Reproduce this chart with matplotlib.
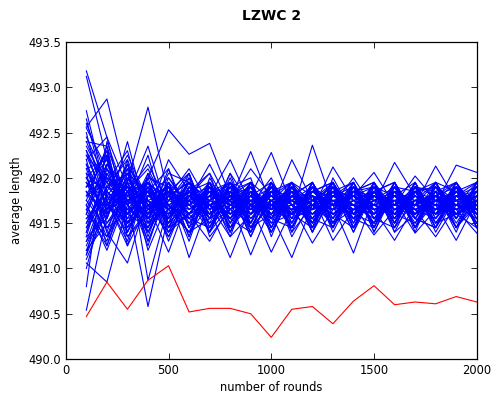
import numpy as np
import matplotlib
matplotlib.use("Agg")
import matplotlib.pyplot as plt

#rounds at which the average length was measured
rounds = list(range(100, 2001, 100))

#one red reference run
red_run = [490.47, 490.85, 490.55, 490.87, 491.03, 490.52, 490.56, 490.56, 490.50, 490.24,
           490.55, 490.58, 490.39, 490.64, 490.81, 490.60, 490.63, 490.61, 490.69, 490.63]

#blue runs (approx.)
blue_runs = [
    [493.18, 492.45, 491.90, 491.75, 491.60, 491.85, 491.70, 491.55, 491.80, 491.65, 491.75, 491.60, 491.70, 491.85, 491.65, 491.70, 491.60, 491.75, 491.70, 491.65],
    [493.12, 492.20, 491.60, 492.05, 491.70, 491.50, 491.85, 491.75, 491.60, 491.90, 491.70, 491.55, 491.80, 491.65, 491.75, 491.85, 491.70, 491.60, 491.80, 491.75],
    [492.56, 492.87, 491.95, 492.78, 491.80, 491.60, 491.75, 491.95, 491.70, 491.60, 491.85, 491.70, 491.65, 491.80, 491.70, 491.60, 491.75, 491.70, 491.65, 491.80],
    [492.74, 491.80, 492.10, 491.70, 491.55, 491.90, 491.65, 491.75, 492.29, 491.70, 491.60, 491.80, 491.75, 491.55, 491.70, 491.80, 491.65, 491.75, 491.85, 491.70],
    [492.40, 492.35, 491.70, 492.00, 492.53, 492.26, 492.38, 491.80, 491.65, 491.90, 491.75, 491.60, 491.70, 491.85, 491.80, 491.60, 491.75, 491.70, 491.65, 491.75],
    [490.54, 491.60, 491.95, 491.80, 491.70, 491.55, 491.70, 491.85, 491.60, 491.75, 491.65, 491.80, 491.70, 491.60, 491.75, 491.70, 491.85, 491.65, 491.70, 491.60],
    [490.80, 492.40, 491.75, 490.58, 491.60, 491.85, 491.70, 491.55, 491.75, 491.80, 491.60, 491.70, 491.85, 491.65, 491.60, 491.75, 491.70, 491.80, 491.60, 491.70],
    [491.06, 490.85, 491.70, 491.90, 491.50, 491.75, 491.60, 491.80, 491.70, 491.55, 491.75, 491.65, 491.75, 491.70, 491.85, 491.65, 491.60, 491.70, 491.75, 491.85],
    [492.20, 491.40, 491.06, 491.80, 491.90, 491.60, 491.30, 491.70, 491.85, 491.65, 491.90, 491.75, 491.60, 491.80, 491.70, 491.75, 491.65, 491.80, 491.70, 491.65],
    [491.40, 491.90, 492.20, 490.87, 491.70, 491.85, 491.65, 491.12, 491.70, 491.80, 491.65, 491.75, 491.70, 491.65, 491.75, 491.60, 491.80, 491.65, 491.75, 491.70],
    [491.80, 492.30, 491.50, 491.70, 491.18, 491.80, 491.60, 491.75, 491.15, 491.70, 491.85, 491.60, 491.80, 491.70, 491.55, 491.80, 491.70, 491.65, 491.80, 491.75],
    [492.00, 491.60, 492.40, 491.55, 491.85, 491.12, 491.75, 491.90, 491.70, 491.18, 491.65, 491.80, 491.70, 491.75, 491.65, 491.70, 491.80, 491.60, 491.70, 491.80],
    [491.60, 492.10, 491.80, 492.35, 491.60, 491.70, 491.85, 491.65, 491.80, 491.60, 491.12, 491.70, 491.75, 491.80, 491.70, 491.65, 491.75, 491.80, 491.60, 491.70],
    [491.20, 491.75, 492.05, 491.60, 492.20, 491.85, 491.55, 491.70, 491.60, 491.85, 491.70, 491.28, 491.65, 491.70, 491.80, 491.75, 491.60, 491.70, 491.80, 491.65],
    [492.10, 491.50, 491.85, 492.15, 491.70, 491.40, 491.70, 491.80, 491.55, 491.75, 491.60, 491.80, 491.31, 491.65, 491.75, 491.80, 491.70, 491.60, 491.75, 491.85],
    [491.90, 492.20, 491.40, 491.80, 492.00, 491.70, 491.95, 491.60, 491.75, 491.70, 491.80, 491.65, 491.70, 491.17, 491.80, 491.70, 491.65, 491.75, 491.70, 491.60],
    [491.70, 491.30, 492.00, 491.65, 491.80, 492.10, 491.70, 491.85, 491.65, 491.80, 491.60, 491.75, 491.80, 491.70, 491.37, 491.65, 491.80, 491.70, 491.60, 491.75],
    [492.30, 491.85, 491.60, 491.90, 491.50, 491.75, 492.15, 491.70, 491.60, 491.75, 491.85, 491.70, 491.60, 491.75, 491.65, 491.31, 491.70, 491.80, 491.65, 491.70],
    [491.50, 492.00, 491.70, 491.45, 491.75, 491.65, 491.80, 492.20, 491.70, 491.60, 491.75, 491.85, 491.70, 491.65, 491.80, 491.75, 491.39, 491.65, 491.75, 491.80],
    [492.15, 491.70, 491.50, 491.85, 491.65, 491.95, 491.60, 491.75, 492.10, 491.80, 491.65, 491.70, 491.85, 491.60, 491.70, 491.80, 491.65, 491.35, 491.70, 491.65],
    [491.30, 491.90, 491.80, 491.60, 491.95, 491.70, 491.50, 491.65, 491.80, 492.28, 491.70, 491.60, 491.75, 491.80, 491.65, 491.70, 491.75, 491.70, 491.31, 491.75],
    [491.85, 491.55, 492.15, 491.70, 491.60, 491.80, 491.70, 491.60, 491.75, 491.65, 492.20, 491.75, 491.65, 491.70, 491.85, 491.65, 491.70, 491.75, 491.65, 491.39],
    [492.05, 491.80, 491.65, 491.95, 491.70, 491.55, 491.80, 491.70, 491.85, 491.75, 491.60, 492.36, 491.70, 491.80, 491.60, 491.75, 491.85, 491.65, 491.70, 491.80],
    [491.65, 492.15, 491.90, 491.50, 491.80, 491.70, 491.60, 491.85, 491.70, 491.80, 491.75, 491.65, 492.12, 491.75, 491.70, 491.60, 491.75, 491.80, 491.70, 491.65],
    [491.95, 491.65, 491.75, 491.85, 491.55, 491.80, 491.75, 491.65, 491.80, 491.70, 491.65, 491.80, 491.70, 492.00, 491.65, 491.80, 491.70, 491.65, 491.85, 491.70],
    [492.45, 491.95, 491.55, 491.70, 491.90, 491.65, 491.85, 491.75, 491.60, 491.75, 491.80, 491.70, 491.65, 491.80, 492.06, 491.70, 491.65, 491.80, 491.70, 491.75],
    [491.75, 491.45, 491.85, 492.10, 491.65, 491.75, 491.60, 491.80, 491.75, 491.65, 491.70, 491.85, 491.80, 491.65, 491.70, 492.17, 491.80, 491.70, 491.65, 491.80],
    [491.55, 491.85, 491.65, 491.75, 491.85, 491.60, 491.90, 491.70, 491.65, 491.85, 491.75, 491.60, 491.75, 491.70, 491.80, 491.70, 492.02, 491.75, 491.80, 491.70],
    [492.25, 491.70, 492.00, 491.60, 491.75, 492.00, 491.65, 491.80, 491.90, 491.60, 491.70, 491.80, 491.65, 491.85, 491.75, 491.80, 491.70, 492.13, 491.75, 491.65],
    [491.45, 492.05, 491.60, 491.80, 491.65, 491.85, 491.75, 491.60, 491.70, 491.85, 491.65, 491.75, 491.85, 491.70, 491.65, 491.75, 491.80, 491.70, 492.14, 492.06],
    [491.10, 491.65, 491.90, 491.70, 491.40, 491.75, 491.80, 491.95, 491.65, 491.70, 491.90, 491.70, 491.60, 491.75, 491.85, 491.65, 491.70, 491.85, 491.70, 491.95],
    [492.35, 491.90, 491.70, 491.40, 491.80, 491.60, 491.70, 491.75, 491.90, 491.65, 491.80, 491.75, 491.90, 491.70, 491.60, 491.85, 491.75, 491.65, 491.90, 491.70],
    [491.70, 491.20, 491.80, 491.95, 491.75, 491.85, 491.40, 491.70, 491.80, 491.95, 491.60, 491.85, 491.70, 491.90, 491.75, 491.70, 491.60, 491.90, 491.75, 491.85],
    [492.00, 492.25, 491.45, 491.75, 491.60, 491.95, 491.75, 491.85, 491.45, 491.70, 491.75, 491.90, 491.60, 491.80, 491.90, 491.55, 491.85, 491.75, 491.60, 491.75],
    [491.85, 491.60, 491.90, 491.30, 491.85, 491.70, 491.90, 491.45, 491.75, 491.90, 491.55, 491.65, 491.85, 491.60, 491.75, 491.90, 491.65, 491.55, 491.80, 491.60],
    [491.25, 491.80, 491.35, 491.65, 491.95, 491.50, 491.70, 491.80, 491.95, 491.55, 491.80, 491.50, 491.80, 491.95, 491.55, 491.70, 491.90, 491.80, 491.55, 491.85],
    [492.60, 492.00, 491.85, 491.55, 491.70, 491.80, 491.55, 491.95, 491.60, 491.80, 491.95, 491.70, 491.50, 491.65, 491.90, 491.80, 491.55, 491.90, 491.70, 491.55],
    [491.60, 491.35, 491.75, 491.85, 491.45, 491.60, 491.85, 491.55, 491.85, 491.70, 491.50, 491.90, 491.75, 491.55, 491.80, 491.60, 491.85, 491.60, 491.85, 491.65],
    [491.95, 491.75, 491.25, 491.70, 491.80, 491.95, 491.60, 491.80, 491.50, 491.90, 491.75, 491.55, 491.90, 491.75, 491.50, 491.85, 491.70, 491.95, 491.60, 491.90],
    [491.15, 491.70, 491.95, 491.45, 491.90, 491.55, 491.80, 491.70, 491.90, 491.45, 491.85, 491.70, 491.55, 491.90, 491.70, 491.55, 491.80, 491.60, 491.75, 491.50],
    [491.35, 492.10, 491.55, 491.95, 491.45, 491.90, 491.50, 491.95, 491.45, 491.85, 491.55, 491.95, 491.50, 491.90, 491.45, 491.85, 491.50, 491.90, 491.55, 491.95],
    [492.15, 491.40, 492.05, 491.35, 491.95, 491.45, 491.95, 491.50, 491.90, 491.45, 491.95, 491.50, 491.90, 491.45, 491.95, 491.50, 491.85, 491.45, 491.90, 491.50],
    [491.55, 491.75, 491.30, 492.05, 491.50, 492.00, 491.40, 491.85, 491.95, 491.50, 491.60, 491.90, 491.45, 491.95, 491.55, 491.90, 491.45, 491.80, 491.95, 491.45],
    [492.50, 491.60, 491.85, 491.25, 491.95, 491.35, 491.90, 491.55, 491.40, 491.95, 491.45, 491.85, 491.95, 491.50, 491.85, 491.45, 491.95, 491.50, 491.80, 491.90],
    [491.00, 491.85, 492.25, 491.75, 491.35, 491.80, 492.05, 491.40, 491.85, 491.40, 491.90, 491.45, 491.85, 491.55, 491.95, 491.50, 491.90, 491.85, 491.45, 491.80],
    [492.20, 492.45, 491.50, 491.90, 491.65, 491.40, 491.55, 492.00, 491.50, 491.95, 491.40, 491.95, 491.55, 491.85, 491.50, 491.95, 491.55, 491.45, 491.95, 491.55],
    [491.65, 491.25, 491.95, 491.55, 492.05, 491.95, 491.40, 491.85, 491.35, 491.85, 491.95, 491.45, 491.95, 491.45, 491.90, 491.40, 491.85, 491.90, 491.50, 491.85],
    [491.90, 492.30, 491.25, 492.00, 491.40, 491.60, 491.95, 491.40, 491.95, 491.40, 491.80, 491.95, 491.45, 491.90, 491.60, 491.95, 491.45, 491.95, 491.60, 491.45],
    [491.35, 491.55, 492.10, 491.20, 491.75, 492.05, 491.45, 491.95, 491.60, 491.95, 491.40, 491.70, 491.95, 491.45, 491.85, 491.50, 491.95, 491.50, 491.85, 491.95],
    [492.65, 491.75, 491.40, 491.90, 491.30, 491.85, 491.95, 491.50, 491.80, 491.50, 491.90, 491.40, 491.85, 491.95, 491.40, 491.90, 491.55, 491.85, 491.45, 491.80],
    [491.15, 492.05, 491.65, 491.50, 492.10, 491.45, 491.75, 491.95, 491.40, 491.75, 491.95, 491.55, 491.45, 491.85, 491.95, 491.45, 491.75, 491.95, 491.55, 491.90],
    [492.05, 491.25, 491.85, 491.95, 491.55, 492.05, 491.35, 491.65, 491.95, 491.55, 491.45, 491.85, 491.95, 491.55, 491.45, 491.95, 491.55, 491.45, 491.90, 491.45],
    [491.75, 492.35, 491.35, 491.60, 491.85, 491.30, 491.95, 491.45, 491.70, 492.00, 491.50, 491.95, 491.60, 491.45, 491.90, 491.60, 491.95, 491.55, 491.95, 491.60],
    [492.30, 491.65, 492.15, 491.40, 491.80, 491.95, 491.55, 492.05, 491.45, 491.60, 491.85, 491.40, 492.00, 491.60, 491.85, 491.95, 491.45, 491.85, 491.40, 491.95],
    [491.40, 492.15, 491.70, 492.25, 491.45, 491.75, 491.85, 491.35, 491.95, 491.75, 491.45, 491.90, 491.55, 491.95, 491.40, 491.85, 491.60, 491.95, 491.85, 491.50],
    [491.95, 491.45, 491.60, 491.85, 492.10, 491.55, 491.45, 491.90, 492.00, 491.35, 491.90, 491.60, 491.85, 491.40, 491.95, 491.55, 491.90, 491.40, 491.80, 491.95],
    [491.80, 491.95, 492.30, 491.50, 491.65, 491.95, 491.70, 491.35, 491.60, 491.90, 491.55, 491.95, 491.40, 491.85, 491.95, 491.40, 491.60, 491.85, 491.95, 491.60],
    [492.40, 491.85, 491.45, 492.00, 491.90, 491.35, 492.00, 491.60, 491.95, 491.45, 491.85, 491.45, 491.95, 491.60, 491.50, 491.90, 491.85, 491.50, 491.60, 491.90],
    [491.20, 491.50, 491.75, 491.85, 491.50, 491.95, 491.55, 491.90, 491.35, 491.85, 491.45, 491.85, 491.65, 491.95, 491.55, 491.45, 491.90, 491.60, 491.95, 491.45],
    [492.10, 492.20, 491.60, 491.45, 492.00, 491.65, 491.80, 491.40, 491.85, 491.60, 491.95, 491.50, 491.90, 491.40, 491.85, 491.95, 491.40, 491.95, 491.45, 491.75],
    [491.50, 491.90, 492.05, 491.85, 491.40, 491.85, 492.05, 491.65, 491.50, 491.95, 491.35, 491.75, 491.95, 491.60, 491.95, 491.60, 491.50, 491.80, 491.90, 491.55],
    [491.85, 491.35, 491.95, 491.30, 491.85, 491.75, 491.40, 491.95, 491.75, 491.40, 491.80, 491.95, 491.50, 491.90, 491.55, 491.80, 491.95, 491.45, 491.80, 491.85],
    [492.55, 492.10, 491.75, 491.95, 491.45, 491.90, 491.65, 491.90, 491.55, 491.85, 491.60, 491.45, 491.90, 491.50, 491.95, 491.65, 491.85, 491.95, 491.45, 491.95],
    [491.45, 491.80, 491.50, 491.90, 491.70, 491.40, 491.90, 491.45, 491.90, 491.65, 491.95, 491.80, 491.45, 491.95, 491.45, 491.90, 491.45, 491.75, 491.95, 491.65],
    [492.00, 491.55, 492.20, 491.65, 491.85, 492.05, 491.45, 491.80, 491.40, 491.95, 491.70, 491.50, 491.95, 491.45, 491.85, 491.50, 491.95, 491.55, 491.90, 491.50],
    [491.60, 492.25, 491.40, 491.95, 491.55, 491.90, 491.70, 491.55, 491.95, 491.45, 491.90, 491.55, 491.85, 491.80, 491.50, 491.95, 491.55, 491.90, 491.65, 491.85],
    [492.25, 491.95, 491.75, 491.55, 491.95, 491.45, 491.95, 491.75, 491.45, 491.90, 491.45, 491.95, 491.50, 491.90, 491.60, 491.85, 491.45, 491.95, 491.55, 491.95],
    [491.30, 491.65, 492.15, 491.75, 491.55, 491.95, 491.55, 492.05, 491.70, 491.55, 491.90, 491.65, 491.95, 491.45, 491.85, 491.50, 491.90, 491.60, 491.90, 491.45],
    [491.90, 492.00, 491.60, 491.85, 491.35, 491.80, 491.90, 491.50, 491.85, 491.55, 491.95, 491.40, 491.80, 491.90, 491.45, 491.95, 491.60, 491.80, 491.45, 491.70],
    [491.70, 492.15, 491.85, 491.40, 491.90, 491.60, 491.85, 491.95, 491.50, 491.90, 491.50, 491.90, 491.45, 491.85, 491.90, 491.55, 491.90, 491.45, 491.85, 491.60],
]

plt.rcParams['font.size'] = 8.3

fig = plt.figure(figsize=(4.91, 3.99), dpi=100)
ax = fig.add_subplot(111)
fig.subplots_adjust(left=0.134, right=0.971, top=0.895, bottom=0.100)

for run in blue_runs:
    ax.plot(rounds, run, color='#0000ff', lw=0.8)
ax.plot(rounds, red_run, color='#ff0000', lw=0.8)

ax.set_xlim(0, 2000)
ax.set_ylim(490.0, 493.5)
ax.set_xticks([0, 500, 1000, 1500, 2000])
ax.set_yticks(np.arange(490.0, 493.51, 0.5))
ax.yaxis.set_major_formatter(matplotlib.ticker.FormatStrFormatter('%.1f'))
ax.tick_params(direction='in', top=True, right=True, length=4, width=0.6)
for s in ax.spines.values():
    s.set_linewidth(0.9)

ax.set_xlabel("number of rounds", labelpad=3)
ax.set_ylabel("average length", labelpad=4)
ax.set_title("LZWC 2", fontweight='bold', fontsize=10, pad=16)

fig.savefig("out.png", dpi=100)
